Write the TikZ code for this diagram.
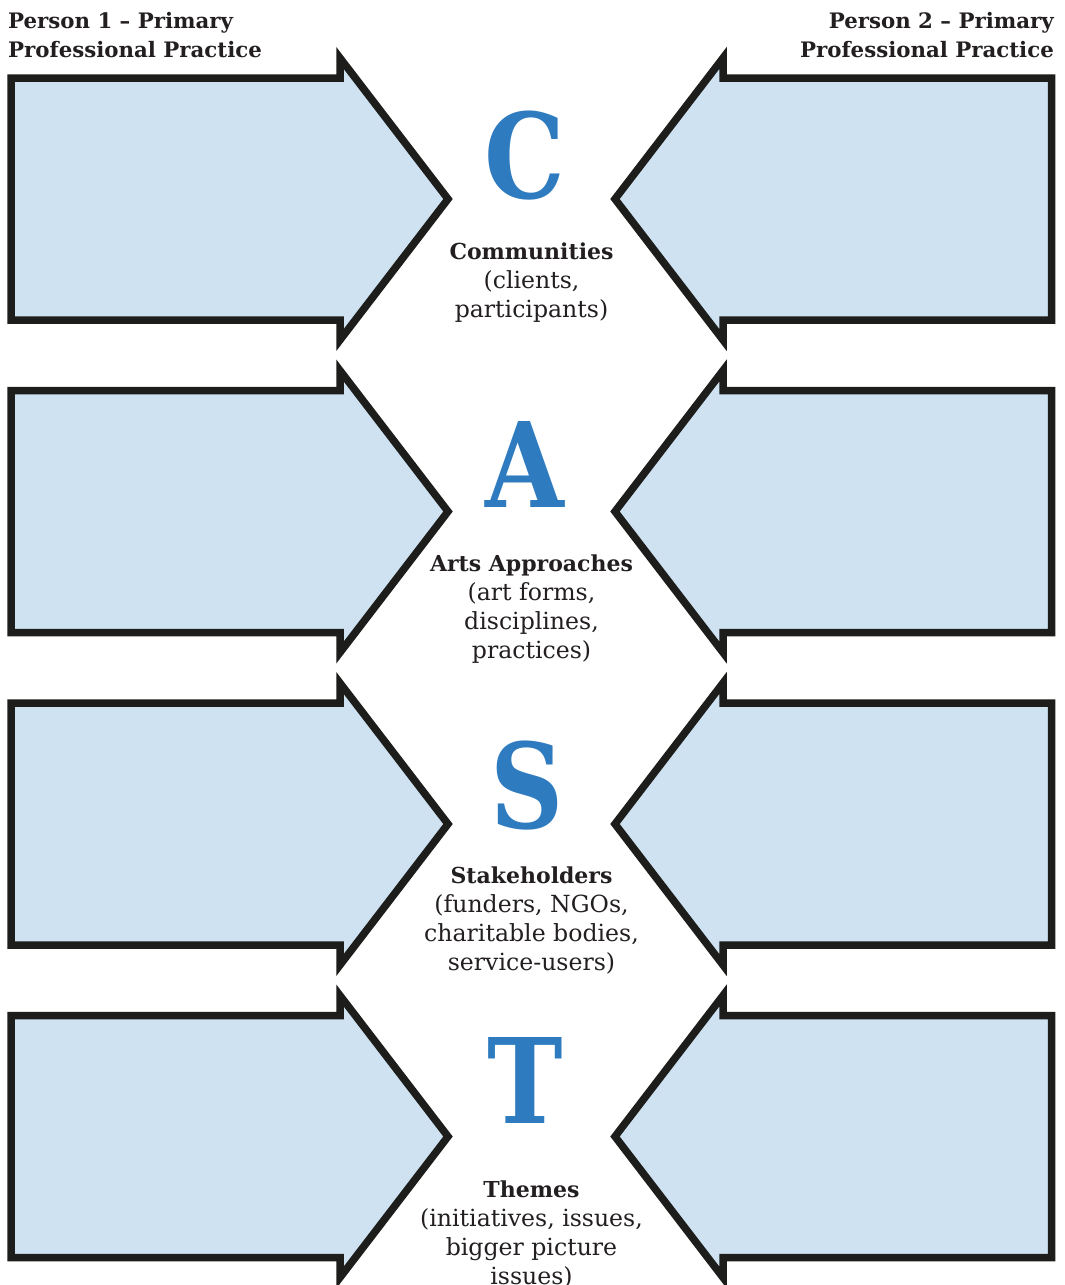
\documentclass[tikz,border=0pt]{standalone}
\usepackage{fontspec}
\setmainfont{DejaVu Serif}
\definecolor{boxfill}{HTML}{CFE2F1}
\definecolor{boxline}{HTML}{1D1D1B}
\definecolor{letterblue}{HTML}{2E7BBF}
\definecolor{txt}{HTML}{231F20}
\newcommand\narrowletter[1]{\scalebox{0.86}[1]{#1}}
\tikzset{
  arrowbox/.style={draw=boxline, fill=boxfill, line width=7.5pt, line join=miter},
  bigletter/.style={text=letterblue, font=\fontsize{118}{118}\selectfont\bfseries, inner sep=0pt, anchor=base},
  headtxt/.style={text=txt, font=\fontsize{21.3}{29}\selectfont\bfseries, inner sep=0pt, anchor=base},
  titletxt/.style={text=txt, font=\fontsize{22}{29}\selectfont\bfseries, inner sep=0pt, anchor=base},
  bodytxt/.style={text=txt, font=\fontsize{23.6}{29}\selectfont, inner sep=0pt, anchor=base},
}
\begin{document}
\begin{tikzpicture}[x=1pt,y=-1pt]
\useasboundingbox (0,0) rectangle (1065,1285);
\fill[white] (0,0) rectangle (1065,1285);
\foreach \cy in {199,511.5,824,1136.5}{
  \draw[arrowbox] (11,\cy-121) -- (340,\cy-121) -- (340,\cy-141) -- (448,\cy) -- (340,\cy+141) -- (340,\cy+121) -- (11,\cy+121) -- cycle;
  \draw[arrowbox] (1051.5,\cy-121) -- (723,\cy-121) -- (723,\cy-141) -- (615,\cy) -- (723,\cy+141) -- (723,\cy+121) -- (1051.5,\cy+121) -- cycle;
}
% headers
\node[headtxt, anchor=base west] (h1a) at (8,28) {Person 1 – Primary};
\node[headtxt, anchor=base west] (h1b) at (8,57) {Professional Practice};
\node[headtxt, anchor=base east] (h2a) at (1054,28) {Person 2 – Primary};
\node[headtxt, anchor=base east] (h2b) at (1054,57) {Professional Practice};
% letters
\node[bigletter] (lc) at (525,198) {\narrowletter{C}};
\node[bigletter] (la) at (525,507) {\narrowletter{A}};
\node[bigletter] (ls) at (527.5,828) {\narrowletter{S}};
\node[bigletter] (lt) at (525,1123) {\narrowletter{T}};
% row 1
\node[titletxt] (c1) at (531.5,259) {Communities};
\node[bodytxt] (c2) at (531.5,288) {(clients,};
\node[bodytxt] (c3) at (531.5,317) {participants)};
% row 2
\node[titletxt] (a1) at (531.5,571) {Arts Approaches};
\node[bodytxt] (a2) at (531.5,600) {(art forms,};
\node[bodytxt] (a3) at (531.5,629) {disciplines,};
\node[bodytxt] (a4) at (531.5,658) {practices)};
% row 3
\node[titletxt] (s1) at (531.5,883) {Stakeholders};
\node[bodytxt] (s2) at (531.5,912) {(funders, NGOs,};
\node[bodytxt] (s3) at (531.5,941) {charitable bodies,};
\node[bodytxt] (s4) at (531.5,970) {service-users)};
% row 4
\node[titletxt] (t1) at (531.5,1197) {Themes};
\node[bodytxt] (t2) at (531.5,1226) {(initiatives, issues,};
\node[bodytxt] (t3) at (531.5,1255) {bigger picture};
\node[bodytxt] (t4) at (531.5,1284) {issues)};
\end{tikzpicture}
\end{document}
